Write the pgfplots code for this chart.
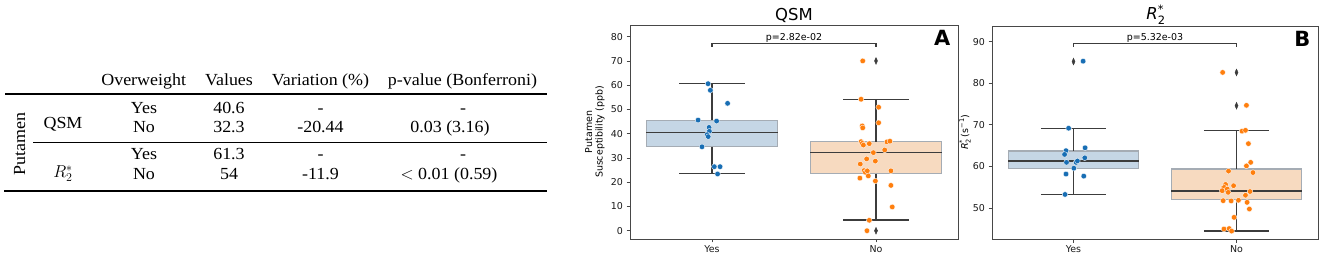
\documentclass[border=0pt]{standalone}
\usepackage{pgfplots}
\pgfplotsset{compat=1.18}
\usepackage{fontspec}
\setmainfont[FakeStretch=1.06]{Liberation Serif}
\newfontfamily\dv{DejaVu Sans}
\definecolor{tabblue}{RGB}{24,110,180}
\definecolor{taborange}{RGB}{255,127,14}
\definecolor{boxblue}{RGB}{197,214,229}
\definecolor{boxorange}{RGB}{247,218,192}
\definecolor{boxedge}{RGB}{165,172,180}
\definecolor{dk}{RGB}{60,60,60}
\newcommand{\tf}{\fontsize{17}{20}\selectfont}
\newcommand{\sm}{\dv\fontsize{9.5}{11}\selectfont}
\pgfplotsset{
  bx/.style={
    scale only axis, clip=false,
    xmin=-0.5, xmax=1.5,
    xtick={0,1}, xticklabels={Yes,No},
    axis line style={draw=black!72, line width=0.8bp},
    tick style={draw=black!72, line width=0.8bp},
    tick align=outside, tick pos=left,
    major tick length=3.5bp,
    ticklabel style={font=\sm, text=black!90},
    /pgf/number format/assume math mode=true,
  },
  pts/.style={only marks, mark=*, mark size=2.8bp, mark options={fill=#1, draw=white, line width=0.35bp}},
  outl/.style={only marks, mark=diamond*, mark size=3.4bp, mark options={xscale=0.6, fill=dk, draw=dk}},
  brk/.style={dk, line width=1.2bp},
  boxs/.style={draw=boxedge, line width=1.2bp, fill=#1},
  wh/.style={dk, line width=1.45bp},
}
\begin{document}
\begin{tikzpicture}
\useasboundingbox (0,0) rectangle (1325bp,264bp);
% ---------- table ----------
\draw[line width=1.2bp] (5bp,170bp) -- (547bp,170bp);
\draw[line width=0.7bp] (33bp,122bp) -- (547bp,122bp);
\draw[line width=1.2bp] (4bp,73bp) -- (547bp,73bp);
\begin{scope}[every node/.style={anchor=base, inner sep=0pt, font=\tf}]
\node at (143.7bp,178bp) {Overweight};
\node at (229bp,178bp) {Values};
\node at (320.5bp,178bp) {Variation (\%)};
\node at (462.5bp,178bp) {p-value (Bonferroni)};
\node at (144bp,150.7bp) {Yes};
\node at (229bp,150.7bp) {40.6};
\node at (320.5bp,150.7bp) {-};
\node at (463bp,150.7bp) {-};
\node at (144bp,131.3bp) {No};
\node at (229bp,131.3bp) {32.3};
\node at (320.5bp,131.3bp) {-20.44};
\node at (450bp,131.3bp) {0.03 (3.16)};
\node at (144bp,104.7bp) {Yes};
\node at (229bp,104.7bp) {61.3};
\node at (320.5bp,104.7bp) {-};
\node at (463bp,104.7bp) {-};
\node at (144bp,84.7bp) {No};
\node at (229bp,84.7bp) {54};
\node at (320.5bp,84.7bp) {-11.9};
\node at (449bp,84.7bp) {$<$ 0.01 (0.59)};
\node at (63bp,135.7bp) {QSM};
\node at (63bp,86.5bp) {$R_2^*$};
\node[rotate=90] at (25bp,120bp) {Putamen};
\end{scope}
% ---------- panel A : QSM ----------
\begin{axis}[bx, at={(630bp,25bp)}, anchor=south west, width=328bp, height=214bp,
  ymin=-3.4, ymax=84.8, ytick={0,10,...,80}]
% Yes box: whiskers 23.5 / 60.6, quartiles 34.6 / 45.6, median 40.6
\addplot[boxs=boxblue] coordinates {(-0.4,34.6) (0.4,34.6) (0.4,45.6) (-0.4,45.6)} --cycle;
\addplot[wh] coordinates {(0,45.6) (0,60.6)};
\addplot[wh] coordinates {(0,34.6) (0,23.5)};
\addplot[wh] coordinates {(-0.2,60.6) (0.2,60.6)};
\addplot[wh] coordinates {(-0.2,23.5) (0.2,23.5)};
\addplot[wh] coordinates {(-0.4,40.6) (0.4,40.6)};
% No box: whiskers 4.4 / 54.2, quartiles 23.5 / 36.7, median 32.3
\addplot[boxs=boxorange] coordinates {(0.6,23.5) (1.4,23.5) (1.4,36.7) (0.6,36.7)} --cycle;
\addplot[wh] coordinates {(1,36.7) (1,54.2)};
\addplot[wh] coordinates {(1,23.5) (1,4.4)};
\addplot[wh] coordinates {(0.8,54.2) (1.2,54.2)};
\addplot[wh] coordinates {(0.8,4.4) (1.2,4.4)};
\addplot[wh] coordinates {(0.6,32.3) (1.4,32.3)};
\addplot[outl] coordinates {(1,70.0) (1,0.0)};
\addplot[pts=tabblue] coordinates {
(-0.024,60.6) (-0.010,57.9) (0.095,52.5) (-0.085,45.6) (0.028,45.2) (-0.018,42.6) (-0.016,41.0)
(-0.029,39.6) (-0.023,38.8) (-0.061,34.6) (0.014,26.4) (0.049,26.4) (0.034,23.4)};
\addplot[pts=taborange] coordinates {
(0.919,70.0) (0.909,54.2) (1.016,50.9) (1.016,44.5) (0.916,43.2) (0.919,42.4) (0.909,36.7)
(0.916,36.0) (0.923,35.3) (0.959,35.9) (1.067,36.6) (1.085,36.9) (1.053,33.3) (0.984,32.2)
(0.943,29.6) (0.904,27.5) (0.996,28.7) (0.927,24.8) (0.935,24.1) (0.947,24.7) (0.953,22.6)
(0.902,21.7) (0.996,20.5) (1.091,24.7) (1.091,18.7) (1.099,9.8) (0.959,4.3) (0.945,0.0)};
\addplot[brk] coordinates {(0,75.8) (0,77.3) (1,77.3) (1,75.8)};
\node[font=\sm, anchor=south, inner sep=0.3bp] at (axis cs:0.5,77.3) {p=2.82e-02};
\node[font=\dv\fontsize{16.5}{18}\selectfont, anchor=base, yshift=4.5bp] at (rel axis cs:0.5,1) {QSM};
\node[font=\dv\bfseries\fontsize{21}{22}\selectfont, anchor=north east, inner sep=0pt, xshift=-7.5bp, yshift=-5.5bp] at (rel axis cs:1,1) {A};
\node[font=\sm, xshift=-38bp, rotate=90, anchor=base, inner sep=0pt] at (rel axis cs:0,0.5) {Putamen};
\node[font=\sm, xshift=-27.5bp, rotate=90, anchor=base, inner sep=0pt] at (rel axis cs:0,0.5) {Susceptibility (ppb)};
\end{axis}
% ---------- panel B : R2* ----------
\begin{axis}[bx, at={(992bp,25bp)}, anchor=south west, width=326bp, height=213bp,
  ymin=42.6, ymax=93.75, ytick={50,60,...,90}]
% Yes box: whiskers 53.3 / 69.2, quartiles 59.6 / 63.75, median 61.35
\addplot[boxs=boxblue] coordinates {(-0.4,59.6) (0.4,59.6) (0.4,63.75) (-0.4,63.75)} --cycle;
\addplot[wh] coordinates {(0,63.75) (0,69.2)};
\addplot[wh] coordinates {(0,59.6) (0,53.3)};
\addplot[wh] coordinates {(-0.2,69.2) (0.2,69.2)};
\addplot[wh] coordinates {(-0.2,53.3) (0.2,53.3)};
\addplot[wh] coordinates {(-0.4,61.35) (0.4,61.35)};
% No box: whiskers 44.5 / 68.6, quartiles 52.0 / 59.4, median 54.1
\addplot[boxs=boxorange] coordinates {(0.6,52.0) (1.4,52.0) (1.4,59.4) (0.6,59.4)} --cycle;
\addplot[wh] coordinates {(1,59.4) (1,68.6)};
\addplot[wh] coordinates {(1,52.0) (1,44.5)};
\addplot[wh] coordinates {(0.8,68.6) (1.2,68.6)};
\addplot[wh] coordinates {(0.8,44.5) (1.2,44.5)};
\addplot[wh] coordinates {(0.6,54.1) (1.4,54.1)};
\addplot[outl] coordinates {(0,85.2) (1,82.6) (1,74.6)};
\addplot[pts=tabblue] coordinates {
(0.059,85.3) (-0.030,69.2) (0.071,64.5) (-0.046,63.8) (-0.055,62.9) (0.069,62.1) (-0.043,61.0)
(0.016,61.0) (0.024,61.35) (0.002,59.6) (-0.046,58.2) (0.063,57.7) (-0.052,53.3)};
\addplot[pts=taborange] coordinates {
(0.915,82.6) (1.061,74.7) (1.034,68.5) (1.055,68.7) (1.073,65.5) (1.087,61.0) (1.061,60.15)
(1.101,58.55) (0.951,58.9) (0.982,55.4) (0.933,55.7) (0.917,54.8) (0.925,55.0) (0.912,54.2)
(0.943,54.6) (0.949,53.8) (1.083,54.0) (1.055,53.1) (0.918,51.8) (0.967,51.75) (1.012,51.9)
(1.065,51.4) (1.079,49.8) (0.985,47.8) (0.923,45.0) (0.955,45.1) (0.970,44.5)};
\addplot[brk] coordinates {(0,88.8) (0,89.6) (1,89.6) (1,88.8)};
\node[font=\sm, anchor=south, inner sep=0.3bp] at (axis cs:0.5,89.6) {p=5.32e-03};
\node[font=\dv\fontsize{16.5}{18}\selectfont, anchor=base, yshift=6bp] at (rel axis cs:0.5,1)
  {\textit{R}\rlap{\raisebox{-4.5bp}{\fontsize{11.5}{12}\selectfont 2}}\raisebox{6.5bp}{\fontsize{11.5}{12}\selectfont *}};
\node[font=\dv\bfseries\fontsize{21}{22}\selectfont, anchor=north east, inner sep=0pt, xshift=-7.5bp, yshift=-5.5bp] at (rel axis cs:1,1) {B};
\node[font=\sm, xshift=-24bp, rotate=90, anchor=base, inner sep=0pt] at (rel axis cs:0,0.5)
  {\textit{R}\rlap{\raisebox{-2.5bp}{\fontsize{6.6}{7}\selectfont 2}}\raisebox{3.8bp}{\fontsize{6.6}{7}\selectfont *} (s\raisebox{3.8bp}{\fontsize{6.6}{7}\selectfont −1})};
\end{axis}
\end{tikzpicture}
\end{document}
